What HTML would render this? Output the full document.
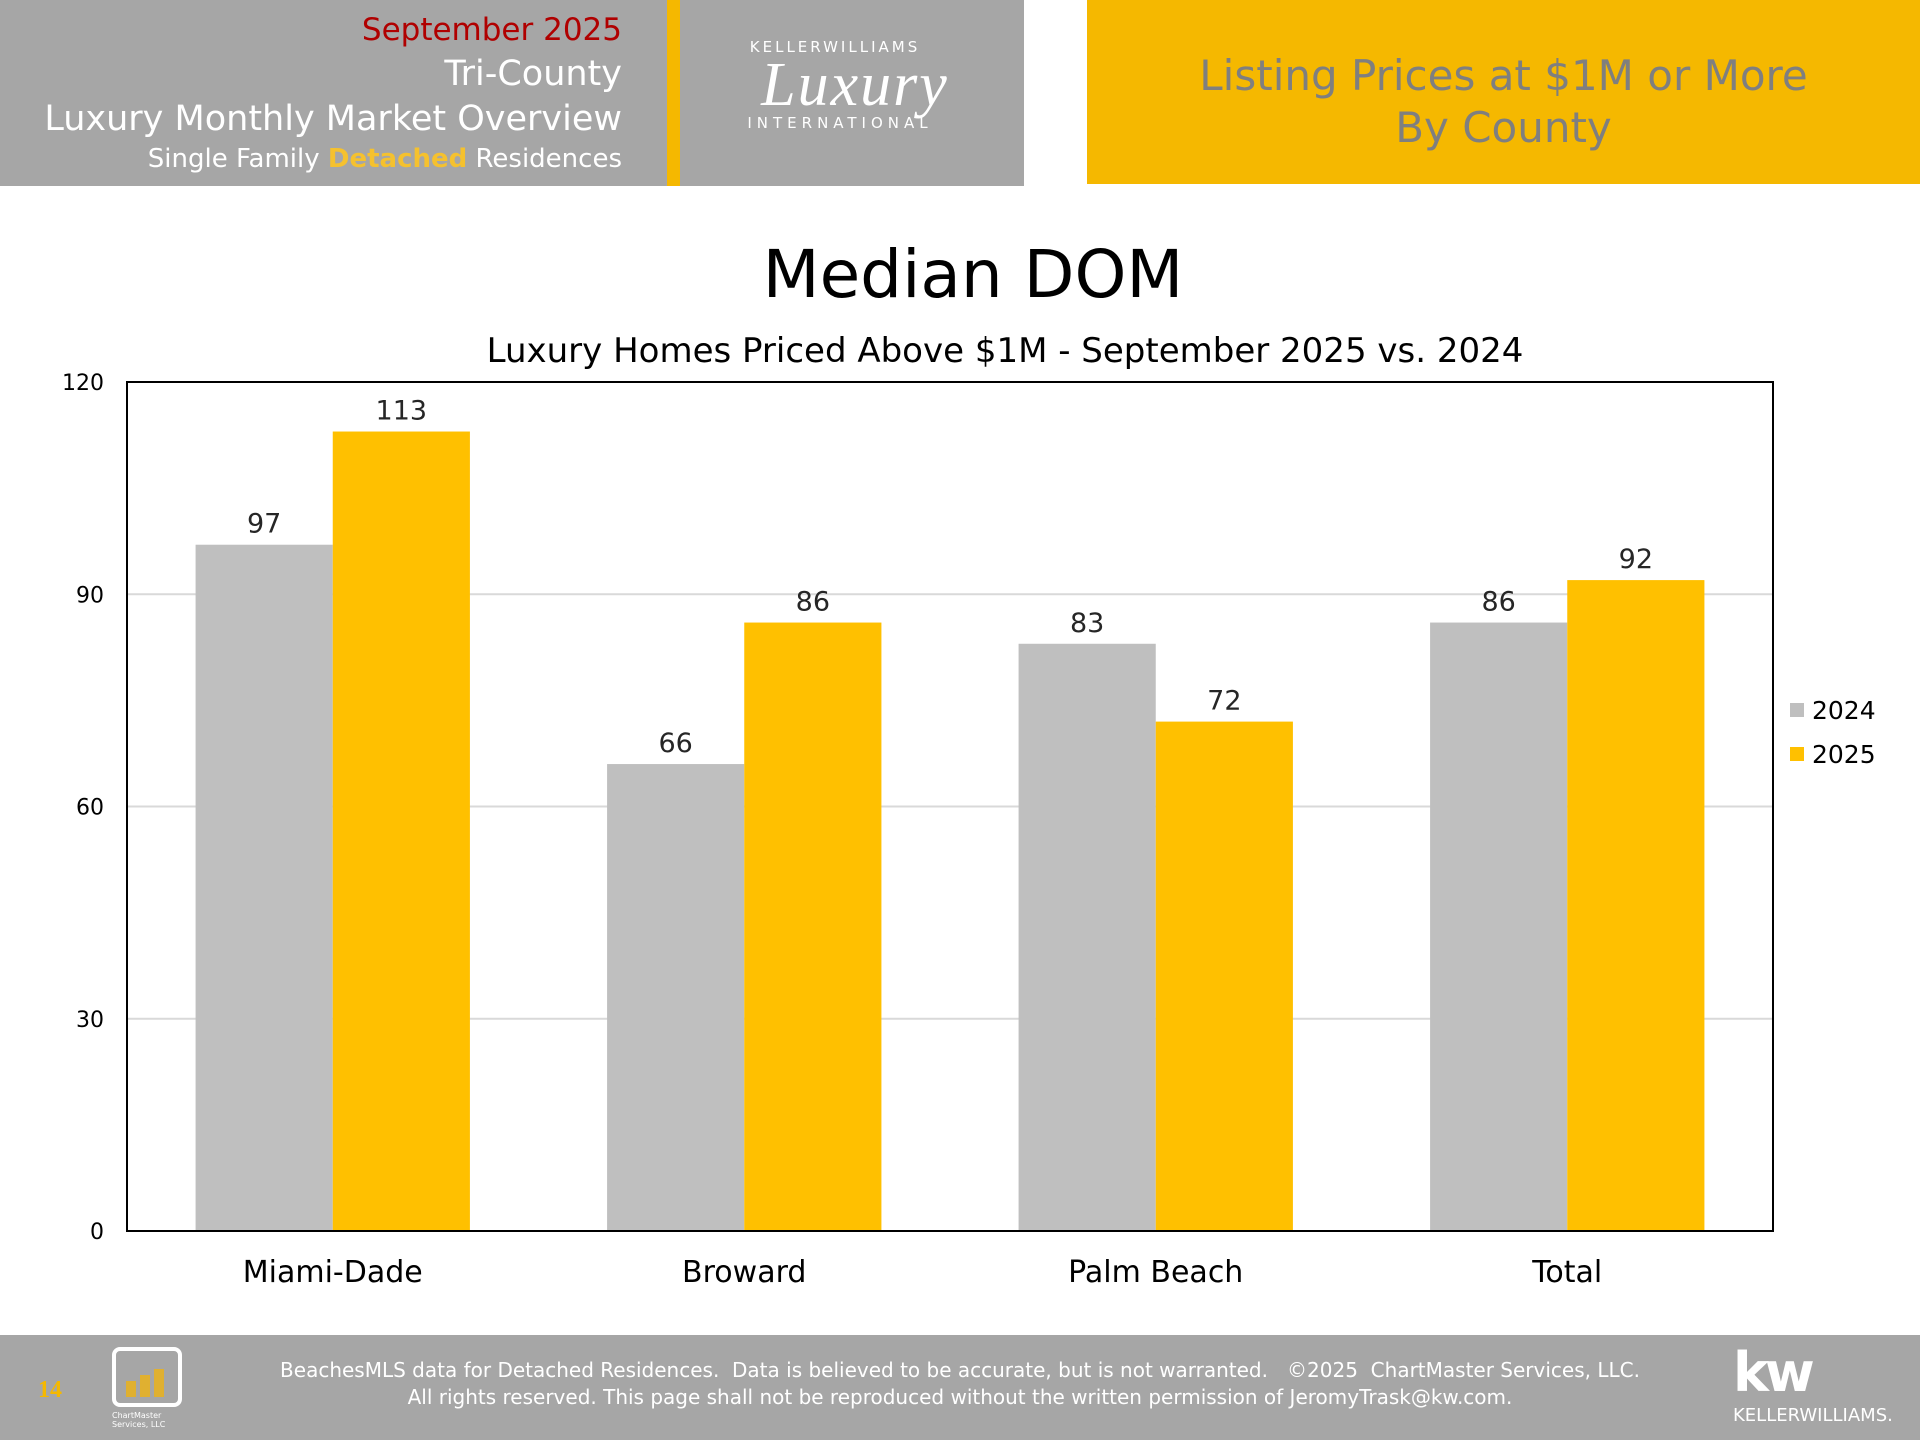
<!DOCTYPE html>
<html><head><meta charset="utf-8">
<style>
html,body{margin:0;padding:0;width:1920px;height:1440px;overflow:hidden;background:#fff;font-family:"DejaVu Sans","Liberation Sans",sans-serif;}
.abs{position:absolute;}
</style></head>
<body>
<div class="abs" style="left:0;top:0;width:1024px;height:186px;background:#a6a6a6;"></div>
<div class="abs" style="left:667px;top:0;width:13px;height:186px;background:#f5b800;"></div>
<div class="abs" style="left:0;top:0;width:622px;text-align:right;color:#fff;">
  <div style="position:absolute;right:0;top:12px;font-size:31px;color:#b00000;white-space:nowrap;">September 2025</div>
  <div style="position:absolute;right:0;top:54px;font-size:35px;white-space:nowrap;">Tri-County</div>
  <div style="position:absolute;right:0;top:99px;font-size:35px;white-space:nowrap;">Luxury Monthly Market Overview</div>
  <div style="position:absolute;right:0;top:144px;font-size:26px;white-space:nowrap;">Single Family <b style="color:#f5c12e">Detached</b> Residences</div>
</div>
<div class="abs" style="left:690px;top:38px;width:330px;height:110px;color:#fff;text-align:center;">
  <div style="font-size:15px;letter-spacing:3px;margin-left:-40px;">KELLERWILLIAMS</div>
  <div style="font-family:'Liberation Serif',serif;font-style:italic;font-size:62px;line-height:58px;letter-spacing:2px;">Luxury</div>
  <div style="font-size:15px;letter-spacing:5px;margin-left:-30px;">INTERNATIONAL</div>
</div>
<div class="abs" style="left:1087px;top:0;width:833px;height:184px;background:#f5b800;color:#7f7f7f;text-align:center;font-size:42px;line-height:52px;">
  <div style="padding-top:50px;">Listing Prices at $1M or More<br>By County</div>
</div>

<svg class="abs" style="left:0;top:0" width="1920" height="1440" id="chart"></svg>

<div class="abs" style="left:0;top:1335px;width:1920px;height:105px;background:#a6a6a6;color:#fff;">
  <div class="abs" style="left:38px;top:42px;font-family:'Liberation Serif',serif;font-size:24px;color:#f5b800;font-weight:bold;">14</div>
  <div class="abs" style="left:112px;top:12px;width:70px;height:60px;border:4px solid #fff;border-radius:8px;box-sizing:border-box;">
    <div style="position:absolute;left:10px;bottom:6px;width:10px;height:16px;background:#e0b030"></div>
    <div style="position:absolute;left:24px;bottom:6px;width:10px;height:22px;background:#e0b030"></div>
    <div style="position:absolute;left:38px;bottom:6px;width:10px;height:28px;background:#e0b030"></div>
  </div>
  <div class="abs" style="left:112px;top:76px;font-size:8px;">ChartMaster<br>Services, LLC</div>
  <div class="abs" style="left:200px;top:22px;width:1520px;text-align:center;font-size:20px;line-height:27px;">BeachesMLS data for Detached Residences.&nbsp; Data is believed to be accurate, but is not warranted.&nbsp;&nbsp; ©2025&nbsp; ChartMaster Services, LLC.<br>All rights reserved. This page shall not be reproduced without the written permission of JeromyTrask@kw.com.</div>
  <div class="abs" style="left:1733px;top:6px;font-size:54px;font-weight:bold;letter-spacing:-4px;">kw</div>
  <div class="abs" style="left:1733px;top:70px;font-size:18px;">KELLERWILLIAMS.</div>
</div>

<script>
const categories=["Miami-Dade","Broward","Palm Beach","Total"];
const series2024=[97,66,83,86];
const series2025=[113,86,72,92];
const yTicks=[0,30,60,90,120];
const seriesNames=["2024","2025"];
const svg=document.getElementById('chart');
const NS='http://www.w3.org/2000/svg';
const L=127,R=1773,T=382,B=1231,yMax=120;
const y=v=>B-(v/yMax)*(B-T);
const cw=(R-L)/categories.length;
const bw=cw/3;
const x=(i,s)=>L+i*cw+cw/6+s*bw;
function mk(tag,attrs,text){const e=document.createElementNS(NS,tag);for(const k in attrs)e.setAttribute(k,attrs[k]);if(text!==undefined)e.textContent=text;svg.appendChild(e);return e;}
let e;
e=mk('text',{x:973,y:297,'text-anchor':'middle','font-size':66,fill:'#000'},'Median DOM');


e=mk('text',{x:1005,y:362,'text-anchor':'middle','font-size':34,fill:'#000'},'Luxury Homes Priced Above $1M - September 2025 vs. 2024');


yTicks.forEach(t=>{
  if(t>0&&t<yMax){e=mk('line',{x1:L,x2:R,y1:y(t),y2:y(t),stroke:'#d9d9d9','stroke-width':2});
  
  }
  e=mk('text',{x:104,y:y(t)+8,'text-anchor':'end','font-size':22,fill:'#000'},t);
  
  
});
const data=[series2024,series2025],cols=['#bfbfbf','#ffc000'];
categories.forEach((c,i)=>{
  data.forEach((s,si)=>{
    e=mk('rect',{x:x(i,si),y:y(s[i]),width:bw,height:B-y(s[i]),fill:cols[si]});
    
    
    e=mk('text',{x:x(i,si)+bw/2,y:y(s[i])-12,'text-anchor':'middle','font-size':27,fill:'#262626'},s[i]);
    
    
  });
  e=mk('text',{x:L+i*cw+cw/2,y:1282,'text-anchor':'middle','font-size':30,fill:'#000'},c);
  
  
});
e=mk('rect',{x:L,y:T,width:R-L,height:B-T,fill:'none',stroke:'#000','stroke-width':2});


seriesNames.forEach((n,si)=>{
  const ly=711+si*44;
  e=mk('rect',{x:1790,y:ly-8,width:14,height:14,fill:cols[si]});
  
  
  e=mk('text',{x:1812,y:ly+8,'font-size':25,fill:'#000'},n);
  
  
});
</script>
</body></html>
